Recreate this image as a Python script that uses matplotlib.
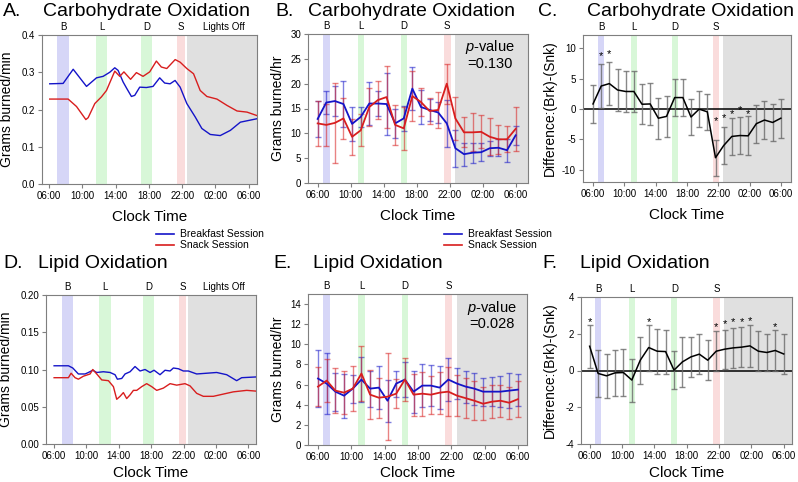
import numpy as np
import matplotlib
matplotlib.use("Agg")
import matplotlib.pyplot as plt
from matplotlib.lines import Line2D

plt.rcParams['font.family'] = ['Liberation Sans', 'DejaVu Sans']
plt.rcParams['mathtext.fontset'] = 'custom'
plt.rcParams['mathtext.it'] = 'Liberation Sans:italic'
plt.rcParams['mathtext.rm'] = 'Liberation Sans'

# ---------------- data ----------------
tick_hours = [6, 10, 14, 18, 22, 26, 30]
tick_labels = ["06:00", "10:00", "14:00", "18:00", "22:00", "02:00", "06:00"]
hourly = np.linspace(6, 30, 24)  # 24 hourly time bins, 06:00 -> 06:00

# Panel A: continuous carbohydrate oxidation (g/min)
a_blue_t = [6.08, 7.69, 8.9, 10.5, 11.7, 12.5, 13.3, 13.9, 14.3, 14.9, 15.3, 15.9, 16.3, 16.9, 17.7, 18.5,
            19.3, 19.9, 20.55, 21.15, 21.76, 22.56, 23.57, 24.37, 25.38, 26.58, 27.8, 29.0, 30.95]
a_blue_v = [0.269, 0.270, 0.308, 0.262, 0.285, 0.289, 0.300, 0.312, 0.305, 0.274, 0.258, 0.235, 0.238, 0.260,
            0.259, 0.262, 0.285, 0.271, 0.269, 0.278, 0.260, 0.216, 0.180, 0.149, 0.133, 0.130, 0.144, 0.166, 0.175]
a_red_t = [6.08, 8.29, 9.3, 10.42, 10.7, 11.5, 12.3, 12.9, 13.9, 14.5, 15.0, 15.8, 16.5, 17.3, 18.1, 18.9,
           19.5, 20.15, 21.16, 21.76, 22.56, 23.37, 24.17, 24.97, 26.18, 27.39, 28.6, 29.8, 30.95]
a_red_v = [0.228, 0.228, 0.208, 0.173, 0.178, 0.216, 0.234, 0.251, 0.303, 0.289, 0.301, 0.281, 0.299, 0.289,
           0.301, 0.330, 0.314, 0.310, 0.334, 0.327, 0.310, 0.296, 0.251, 0.235, 0.228, 0.211, 0.196, 0.193, 0.184]

# Panel B: hourly carbohydrate oxidation (g/hr) mean and error
b_blue = [12.9, 16.2, 16.5, 15.9, 11.9, 13.3, 16.0, 16.0, 15.9, 12.0, 13.0, 19.0,
          15.3, 14.7, 14.2, 12.0, 7.0, 5.8, 6.1, 6.2, 7.0, 7.1, 6.6, 9.6]
b_blue_err = [3.7, 2.3, 3.0, 4.6, 3.5, 2.1, 4.4, 2.5, 6.2, 3.0, 2.6, 4.4,
              3.5, 2.3, 2.2, 4.8, 3.7, 2.3, 2.0, 1.8, 1.5, 1.7, 2.3, 1.9]
b_red = [12.0, 11.7, 12.1, 13.0, 9.3, 10.6, 15.3, 16.7, 17.3, 11.7, 11.0, 17.5,
         16.3, 14.5, 14.7, 20.0, 13.0, 10.2, 10.2, 10.3, 9.3, 8.8, 8.8, 10.9]
b_red_err = [4.5, 4.3, 8.0, 4.2, 3.6, 3.2, 3.8, 3.9, 6.3, 4.1, 4.3, 5.0,
             2.8, 2.7, 3.6, 4.0, 4.3, 3.0, 3.8, 3.3, 3.7, 2.9, 2.6, 4.4]
b_pvalue = "0.130"

# Panel C: difference (Brk)-(Snk), carbohydrate
c_diff = [0.85, 3.8, 4.2, 3.15, 2.9, 2.9, 0.8, 0.85, -1.5, -1.2, 1.9, 1.9,
          -1.3, 0.0, -0.45, -8.0, -6.0, -4.5, -4.35, -4.4, -2.4, -1.8, -2.2, -1.5]
c_err = [3.2, 3.6, 3.5, 3.4, 3.4, 3.4, 3.3, 3.5, 3.4, 3.4, 3.0, 3.0,
         2.9, 3.0, 2.95, 2.95, 3.1, 3.0, 3.0, 3.2, 3.1, 3.1, 3.05, 3.2]
c_sig = [1, 2, 15, 16, 17, 18, 19]
c_star_y = [8.7, 9.0, -2.0, -1.5, -0.9, -0.1, -0.9]

# Panel D: continuous lipid oxidation (g/min)
d_blue_t = [6.0, 7.77, 8.31, 9.0, 9.83, 10.24, 10.78, 11.27, 12.09, 12.92, 13.53, 13.82, 14.36, 14.77, 15.39,
            16.0, 16.62, 17.24, 17.86, 18.35, 19.09, 19.71, 20.33, 20.74, 21.36, 21.97, 22.59, 23.62, 24.86,
            26.09, 27.33, 28.56, 29.18, 30.95]
d_blue_v = [0.105, 0.105, 0.102, 0.094, 0.094, 0.096, 0.099, 0.096, 0.097, 0.096, 0.093, 0.087, 0.088, 0.094,
            0.097, 0.104, 0.098, 0.100, 0.096, 0.099, 0.093, 0.099, 0.098, 0.102, 0.101, 0.098, 0.098, 0.094,
            0.095, 0.096, 0.093, 0.085, 0.089, 0.090]
d_red_t = [6.0, 7.77, 8.1, 8.59, 9.0, 9.62, 10.45, 10.78, 11.35, 11.89, 12.71, 13.33, 13.74, 14.15, 14.56,
           14.97, 15.39, 15.8, 16.21, 16.83, 17.44, 18.06, 18.68, 19.5, 20.33, 21.15, 22.18, 22.8, 23.62,
           24.44, 25.68, 26.91, 28.15, 29.8, 30.95]
d_red_v = [0.089, 0.089, 0.095, 0.089, 0.087, 0.091, 0.094, 0.100, 0.093, 0.086, 0.085, 0.077, 0.060, 0.064,
           0.069, 0.061, 0.066, 0.072, 0.072, 0.077, 0.081, 0.077, 0.072, 0.075, 0.081, 0.079, 0.081, 0.078,
           0.068, 0.064, 0.064, 0.067, 0.070, 0.072, 0.071]

# Panel E: hourly lipid oxidation (g/hr)
e_blue = [6.6, 6.1, 5.3, 4.9, 5.6, 6.5, 5.6, 5.7, 4.4, 6.1, 6.5, 5.3,
          5.9, 5.9, 5.7, 6.5, 6.1, 5.8, 5.6, 5.3, 5.3, 5.3, 5.4, 5.5]
e_blue_err = [2.8, 3.0, 1.9, 2.2, 1.4, 2.2, 1.8, 2.1, 2.1, 1.3, 1.7, 2.1,
              2.1, 2.0, 2.15, 2.1, 1.5, 1.6, 1.6, 1.4, 1.45, 1.55, 1.75, 1.6]
e_red = [5.8, 6.4, 5.4, 5.2, 5.6, 7.1, 5.0, 4.7, 4.8, 5.1, 6.5, 5.0,
         5.1, 5.0, 5.2, 5.3, 4.9, 4.65, 4.4, 4.1, 4.3, 4.4, 4.2, 4.55]
e_red_err = [1.95, 2.15, 2.2, 2.15, 2.25, 2.75, 2.45, 2.0, 4.3, 1.45, 2.1, 2.1,
             2.2, 1.9, 2.1, 2.4, 2.05, 2.0, 1.95, 1.65, 1.65, 1.6, 1.6, 1.8]
e_pvalue = "0.028"

# Panel F: difference (Brk)-(Snk), lipid
f_diff = [1.32, -0.16, -0.29, -0.13, -0.11, -0.52, 0.56, 1.25, 1.05, 1.03, 0.02, 0.47,
          0.74, 0.89, 0.56, 1.05, 1.16, 1.23, 1.27, 1.34, 1.05, 0.98, 1.09, 0.9]
f_err = [1.18, 1.26, 1.2, 1.27, 1.27, 1.17, 1.27, 1.25, 1.23, 1.2, 1.05, 1.36,
         1.1, 1.08, 1.1, 1.1, 1.07, 1.1, 1.1, 1.16, 1.09, 1.02, 1.1, 1.07]
f_sig = [0, 7, 15, 16, 17, 18, 19, 22]
f_star_y = [2.65, 2.65, 2.35, 2.53, 2.62, 2.65, 2.71, 2.35]

# meal windows (start, end hour), label
meals_cont = [("B", 7.0, 8.35), ("L", 11.6, 13.0), ("D", 17.0, 18.4), ("S", 21.4, 22.35)]
lights_cont = 22.6
meals_hourly = [("B", 6.65, 7.45), ("L", 10.85, 11.65), ("D", 16.1, 16.85), ("S", 21.3, 22.13)]
lights_hourly = 22.65

BLUE = '#1414c8'
RED = '#d81e1e'
meal_colors = {"B": '#d6d6f7', "L": '#d8f7d8', "D": '#d8f7d8', "S": '#fadcdc'}
GRAY_BG = '#e0e0e0'
SPINE = '#7f7f7f'

W, H = 798, 482
fig = plt.figure(figsize=(W / 100, H / 100), dpi=100)


def make_ax(l, r, t, b):
    return fig.add_axes([l / W, 1 - b / H, (r - l) / W, (b - t) / H])


def style(ax, xlim, ylim, yticks, yfmt, ylabel, meals, lights, lights_label, ylpad=4, xlpad=6.5):
    ax.set_xlim(*xlim)
    ax.set_ylim(*ylim)
    ax.axvspan(lights, xlim[1], color=GRAY_BG, lw=0, zorder=0)
    for lab, s, e in meals:
        ax.axvspan(s, e, color=meal_colors[lab], lw=0, zorder=0)
        ax.annotate(lab, xy=((s + e) / 2, 1), xycoords=('data', 'axes fraction'),
                    xytext=(0, 6), textcoords='offset points', ha='center', va='center', fontsize=7)
    if lights_label:
        ax.annotate("Lights Off", xy=(27.0, 1), xycoords=('data', 'axes fraction'),
                    xytext=(0, 6), textcoords='offset points', ha='center', va='center', fontsize=7)
    ax.set_xticks(tick_hours)
    ax.set_xticklabels(tick_labels)
    ax.set_yticks(yticks)
    ax.set_yticklabels([yfmt.format(v) for v in yticks])
    ax.tick_params(labelsize=7, length=3, width=0.8, color=SPINE, pad=2)
    for sp in ax.spines.values():
        sp.set_color(SPINE)
        sp.set_linewidth(0.8)
    ax.set_xlabel("Clock Time", fontsize=11, labelpad=xlpad)
    ax.set_ylabel(ylabel, fontsize=10, labelpad=ylpad)


def titles(x_letter, x_text, y, letter, text):
    fig.text(x_letter / W, 1 - y / H, letter, fontsize=14, va='center', ha='left')
    fig.text(x_text / W, 1 - y / H, text, fontsize=14, va='center', ha='left')


# ---- A ----
axA = make_ax(42, 257, 35, 184)
style(axA, (5.15, 31.0), (0, 0.4), [0, 0.1, 0.2, 0.3, 0.4], "{:.1f}", "Grams burned/min",
      meals_cont, lights_cont, True, ylpad=5.5)
axA.plot(a_blue_t, a_blue_v, color=BLUE, lw=1.0, zorder=3)
axA.plot(a_red_t, a_red_v, color=RED, lw=1.0, zorder=3)
titles(3, 43, 11, "A.", "Carbohydrate Oxidation")

# ---- B ----
axB = make_ax(308, 528, 34, 183)
style(axB, (4.83, 31.5), (0, 30), [0, 5, 10, 15, 20, 25, 30], "{:.0f}", "Grams burned/hr",
      meals_hourly, lights_hourly, False)
axB.errorbar(hourly, b_blue, yerr=b_blue_err, fmt='none', ecolor=BLUE, alpha=0.55, elinewidth=1.0,
             capsize=2.2, capthick=1.0, zorder=2)
axB.errorbar(hourly, b_red, yerr=b_red_err, fmt='none', ecolor=RED, alpha=0.55, elinewidth=1.0,
             capsize=2.2, capthick=1.0, zorder=2)
axB.plot(hourly, b_blue, color=BLUE, lw=1.3, zorder=3)
axB.plot(hourly, b_red, color=RED, lw=1.3, zorder=3)
axB.text(26.9, 25.9, "$\\it{p}$-value\n=" + b_pvalue, ha='center', va='center', fontsize=10.5,
         linespacing=1.15)
titles(275, 308, 11, "B.", "Carbohydrate Oxidation")

# ---- C ----
axC = make_ax(583, 791, 35, 182)
style(axC, (4.72, 31.3), (-12, 12.2), [-10, -5, 0, 5, 10], "{:.0f}", "Difference:(Brk)-(Snk)",
      meals_hourly, lights_hourly, False, ylpad=4)
axC.axhline(0, color='black', lw=1.1, zorder=2)
axC.errorbar(hourly, c_diff, yerr=c_err, fmt='none', ecolor='#6a6a6a', alpha=0.8, elinewidth=1.0,
             capsize=2.2, capthick=1.0, zorder=2)
axC.plot(hourly, c_diff, color='black', lw=1.1, zorder=3)
for i, sy in zip(c_sig, c_star_y):
    axC.text(hourly[i], sy, "*", ha='center', va='center', fontsize=8, zorder=5)
titles(538, 587, 11, "C.", "Carbohydrate Oxidation")

# ---- D ----
axD = make_ax(46, 256, 295, 444)
style(axD, (5.0, 30.95), (0, 0.2), [0, 0.05, 0.10, 0.15, 0.20], "{:.2f}", "Grams burned/min",
      meals_cont, lights_cont, True, ylpad=5, xlpad=3.5)
axD.plot(d_blue_t, d_blue_v, color=BLUE, lw=1.0, zorder=3)
axD.plot(d_red_t, d_red_v, color=RED, lw=1.0, zorder=3)
titles(3, 38, 263, "D.", "Lipid Oxidation")

# ---- E ----
axE = make_ax(308, 527, 294, 445)
style(axE, (4.8, 31.1), (0, 15), [0, 2, 4, 6, 8, 10, 12, 14], "{:.0f}", "Grams burned/hr",
      meals_hourly, lights_hourly, False, xlpad=3.0)
axE.errorbar(hourly, e_blue, yerr=e_blue_err, fmt='none', ecolor=BLUE, alpha=0.55, elinewidth=1.0,
             capsize=2.2, capthick=1.0, zorder=2)
axE.errorbar(hourly, e_red, yerr=e_red_err, fmt='none', ecolor=RED, alpha=0.55, elinewidth=1.0,
             capsize=2.2, capthick=1.0, zorder=2)
axE.plot(hourly, e_blue, color=BLUE, lw=1.3, zorder=3)
axE.plot(hourly, e_red, color=RED, lw=1.3, zorder=3)
axE.text(26.9, 12.95, "$\\it{p}$-value\n=" + e_pvalue, ha='center', va='center', fontsize=10.5,
         linespacing=1.0)
titles(273, 313, 263, "E.", "Lipid Oxidation")

# ---- F ----
axF = make_ax(581, 792, 297, 444)
style(axF, (4.93, 31.03), (-4, 4), [-4, -2, 0, 2, 4], "{:.0f}", "Difference:(Brk)-(Snk)",
      meals_hourly, lights_hourly, False, ylpad=6, xlpad=3.5)
axF.axhline(0, color='black', lw=1.1, zorder=2)
axF.errorbar(hourly, f_diff, yerr=f_err, fmt='none', ecolor='#6a6a6a', alpha=0.8, elinewidth=1.0,
             capsize=2.2, capthick=1.0, zorder=2)
axF.plot(hourly, f_diff, color='black', lw=1.1, zorder=3)
for i, sy in zip(f_sig, f_star_y):
    axF.text(hourly[i], sy, "*", ha='center', va='center', fontsize=8, zorder=5)
titles(542, 580, 263, "F.", "Lipid Oxidation")

# ---- legends ----
handles = [Line2D([], [], color=BLUE, lw=1.2), Line2D([], [], color=RED, lw=1.2)]
names = ["Breakfast Session", "Snack Session"]
for x0 in (149, 437):
    fig.legend(handles, names, loc='upper left', bbox_to_anchor=(x0 / W, 1 - 222 / H), frameon=False,
               fontsize=7.5, handlelength=1.7, handletextpad=0.6, labelspacing=0.1, borderpad=0.2)

fig.savefig("out.png", dpi=100)
